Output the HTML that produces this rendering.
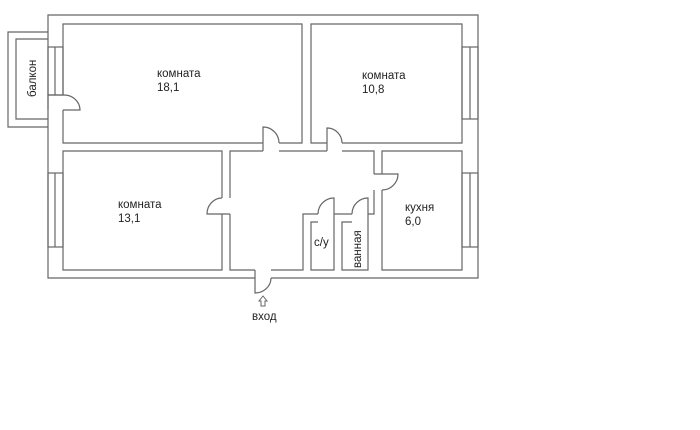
<!DOCTYPE html>
<html><head><meta charset="utf-8"><style>
html,body{margin:0;padding:0;background:#fff;width:700px;height:430px;overflow:hidden}
svg{display:block}
text{font-family:"Liberation Sans",sans-serif;font-size:11.5px;fill:#222}
</style></head><body>
<svg width="700" height="430" viewBox="0 0 700 430">
<g fill="none" stroke="#666" stroke-width="1.2">
<path d="M255,278 L48,278 L48,15 L478,15 L478,278 L271,278"/>
<path d="M48,32 L8,32 L8,127 L48,127"/>
<path d="M48,39 L16,39 L16,119 L48,119"/>
<rect x="48" y="47" width="15" height="48"/><line x1="55" y1="47" x2="55" y2="95"/>
<rect x="48" y="173" width="15" height="74"/><line x1="55" y1="173" x2="55" y2="247"/>
<rect x="462" y="47" width="16" height="72"/><line x1="470" y1="47" x2="470" y2="119"/>
<rect x="462" y="173" width="16" height="74"/><line x1="470" y1="173" x2="470" y2="247"/>
<path d="M263,143 L63,143 L63,110 M63,95 L63,24 L302,24 L302,143 L279,143"/>
<path d="M327,143 L311,143 L311,24 L462,24 L462,143 L342,143"/>
<path d="M222,198 L222,151 L63,151 L63,270 L222,270 L222,214"/>
<path d="M382,174 L382,151 L462,151 L462,270 L382,270 L382,190"/>
<path d="M230,198 L230,151 L263,151 M279,151 L327,151 M342,151 L374,151 L374,174 M374,190 L374,214 L368,214 M352,214 L334,214 M318,214 L303,214 L303,270 L271,270 M255,270 L230,270 L230,214"/>
<path d="M318,222 L311,222 L311,270 L334,270 L334,222"/>
<path d="M352,222 L342,222 L342,270 L368,270 L368,222"/>
<path d="M263,151 L263,127 A16,16 0 0 1 279,143"/>
<path d="M327,151 L327,128 A15,15 0 0 1 342,143"/>
<path d="M374,174 L398,174 A16,16 0 0 1 382,190"/>
<path d="M230,214 L207,214 A15,16 0 0 1 222,198"/>
<path d="M255,270 L255,293 A16,15 0 0 0 271,278"/>
<path d="M334,222 L334,198 A16,16 0 0 0 318,214"/>
<path d="M368,222 L368,198 A16,16 0 0 0 352,214"/>
<path d="M48,110 L48,95 L64,95 A16,15 0 0 1 80,110 L63,110"/>
<path d="M263,296 L259,301 L261,301 L261,306 L265,306 L265,301 L267,301 Z" stroke-width="1"/>
</g>
<text x="157" y="77">комната</text>
<text x="157" y="91">18,1</text>
<text x="362" y="79">комната</text>
<text x="362" y="93">10,8</text>
<text x="118" y="208">комната</text>
<text x="118" y="222">13,1</text>
<text x="405" y="211">кухня</text>
<text x="405" y="225">6,0</text>
<text x="314" y="246">с/у</text>
<text x="252" y="320">вход</text>
<text transform="translate(361,268) rotate(-90)">ванная</text>
<text transform="translate(36,97) rotate(-90)">балкон</text>
</svg>
</body></html>
